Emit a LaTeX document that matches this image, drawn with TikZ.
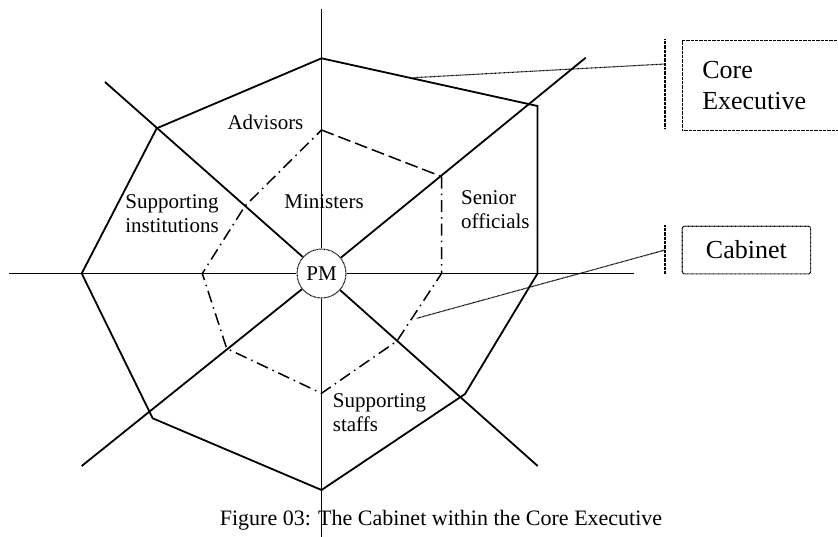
\documentclass[tikz,border=0pt]{standalone}
\usepackage{fontspec}
\setmainfont{Liberation Serif}
\begin{document}
\begin{tikzpicture}[x=1pt,y=-1pt,
  axisline/.style={line width=1.8pt},
  outerpoly/.style={line width=1.8pt, line join=miter},
  innerdash/.style={line width=1.5pt, dash pattern=on 13pt off 5pt},
  innerdashdot/.style={line width=1.5pt, dash pattern=on 12pt off 5pt on 1.5pt off 5pt},
  leaderline/.style={line width=1.1pt, dash pattern=on 0.8pt off 0.5pt},
  regionlabel/.style={inner sep=0pt, font=\fontsize{21}{24}\selectfont},
  tagbox/.style={draw, line width=1.1pt, dash pattern=on 0.8pt off 0.5pt, font=\fontsize{26}{31.6}\selectfont},
  pmcircle/.style={draw, circle, line width=1.1pt, dash pattern=on 0.8pt off 0.6pt, minimum size=49pt, inner sep=0pt, font=\fontsize{21}{24}\selectfont},
  capfont/.style={inner sep=0pt, font=\fontsize{22}{26}\selectfont}
]
\useasboundingbox (0,0) rectangle (838,536);

% centre
\coordinate (c) at (321.5,273.5);
\node[pmcircle] (pm) at (c) {PM};

% axes and diagonals
\coordinate (axN) at (321.5,9);
\coordinate (axS) at (321.5,540);
\coordinate (axW) at (9,273.5);
\coordinate (axE) at (633.5,273.5);
\coordinate (dNW) at (105,82);
\coordinate (dNE) at (585.7,57.7);
\coordinate (dSW) at (81.7,466);
\coordinate (dSE) at (537.7,466);
\foreach \e in {axN,axS,axW,axE,dNW,dNE,dSW,dSE}
  \draw[axisline] (pm) -- (\e);

% outer polygon (core executive)
\coordinate (oN) at (321.5,58.3);
\coordinate (oNE) at (537.5,106);
\coordinate (oE) at (537.5,273.5);
\coordinate (oSE) at (465,394);
\coordinate (oS) at (321.5,490);
\coordinate (oSW) at (152.7,418.3);
\coordinate (oW) at (81.7,273.5);
\coordinate (oNW) at (156.7,128.3);
\draw[outerpoly] (oN) -- (oNE) -- (oE) -- (oSE) -- (oS) -- (oSW) -- (oW) -- (oNW) -- cycle;

% inner polygon (cabinet)
\coordinate (iN) at (321.5,130);
\coordinate (iNE) at (441.5,176.5);
\coordinate (iE) at (441.5,273.5);
\coordinate (iSE) at (397,341);
\coordinate (iS) at (321.5,393.3);
\coordinate (iSW) at (226.7,348.5);
\coordinate (iW) at (202.3,273.5);
\coordinate (iNW) at (245,206);
\draw[innerdash] (iN) -- (iNE);
\draw[innerdashdot] (iNE) -- (iE) -- (iSE) -- (iS) -- (iSW) -- (iW) -- (iNW) -- (iN);

% region labels
\node[regionlabel] (adv) at (265.5,122) {Advisors};
\node[regionlabel] (min) at (324,201.7) {Ministers};
\node[regionlabel, align=center] (supi) at (172,213.7) {Supporting\\institutions};
\node[regionlabel, align=left, anchor=west] (sen) at (461,210) {Senior\\officials};
\node[regionlabel, align=left, anchor=west] (sups) at (332.7,412.5) {Supporting\\staffs};

% tag boxes
\node[tagbox, anchor=north west, minimum width=160pt, minimum height=89.7pt,
      inner xsep=20pt, text width=120pt, align=left] (core) at (681.7,40) {Core\\Executive};
\node[tagbox, rounded corners=2pt, anchor=north west, minimum width=128.3pt,
      minimum height=47.6pt] (cab) at (681.7,225.7) {Cabinet};

% brackets and leaders
\coordinate (coreBarT) at (665,39.3);
\coordinate (coreBarB) at (665,129);
\coordinate (coreTap) at (665,64);
\coordinate (coreFoot) at (413.3,77.7);
\coordinate (cabBarT) at (665,225);
\coordinate (cabBarB) at (665,273.3);
\coordinate (cabTap) at (665,250);
\coordinate (cabFoot) at (416.7,318.3);
\draw[leaderline] (coreBarT) -- (coreBarB);
\draw[leaderline] (coreFoot) -- (coreTap);
\draw[leaderline] (cabBarT) -- (cabBarB);
\draw[leaderline] (cabFoot) -- (cabTap);

% caption
\node[capfont, anchor=base] (cap) at (441,525) {Figure 03: The Cabinet within the Core Executive};
\end{tikzpicture}
\end{document}
